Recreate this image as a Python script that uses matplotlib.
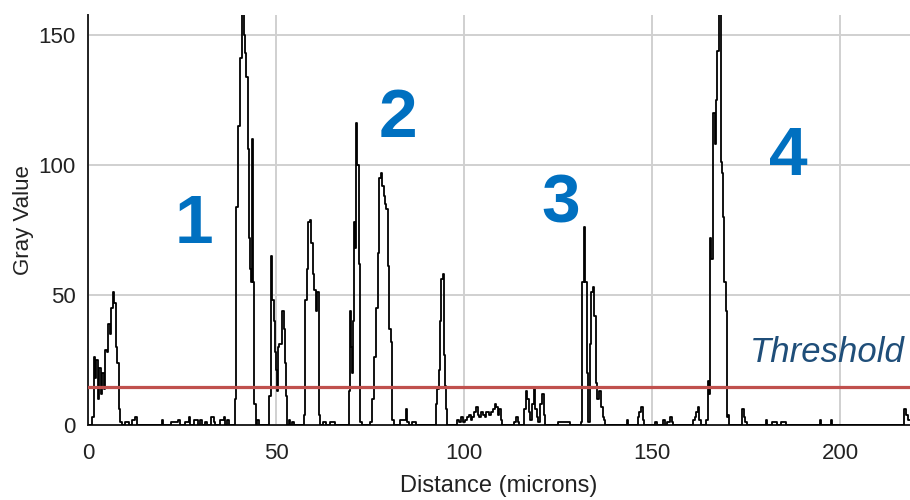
import matplotlib
matplotlib.use('Agg')
import matplotlib.pyplot as plt

# Profil lest av bildet (mikron, gråverdi)
distance = [0, 1.0, 1.3, 1.7, 2.0, 2.4, 2.8, 3.2, 3.6, 4.0, 4.4, 4.8, 5.2, 5.6, 6.0, 6.4, 6.8, 7.2, 7.6, 8.0, 8.4, 8.8, 9.2,
            10.6, 11.0, 12.2, 12.8, 13.2, 19.5, 19.8, 20.2, 23.8, 24.3, 24.8, 26.6, 27.0, 27.4, 29.0, 29.6, 30.2, 30.6,
            31.5, 32.0, 33.2, 33.6, 34.2, 35.8, 36.3, 36.8, 37.2, 37.6,
            39.0, 39.3, 39.6, 40.2, 40.7, 41.2, 41.6, 42.0, 42.3, 42.6, 42.9, 43.2, 43.5, 43.8, 44.1, 44.4, 44.7, 45.2, 45.5,
            48.0, 48.4, 48.9, 49.2, 49.5, 49.8, 50.1, 50.4, 50.7, 51.1, 51.5, 51.9, 52.2, 52.5, 52.8, 53.1, 53.7, 54.0, 54.6, 55.0,
            57.3, 57.6, 58.0, 58.4, 58.8, 59.2, 59.6, 60.0, 60.4, 60.8, 61.2, 61.5, 61.8,
            63.0, 63.4, 65.5, 66.0,
            69.2, 69.5, 69.8, 70.1, 70.4, 70.7, 71.0, 71.2, 71.4, 71.8, 72.2, 72.6, 73.0,
            74.8, 75.2, 75.7, 76.3, 76.8, 77.2, 77.7, 78.1, 78.5, 78.8, 79.1, 79.4, 79.9, 80.3, 80.7, 81.2, 81.6,
            84.5, 84.8, 85.1, 85.5, 87.0, 87.3,
            92.3, 92.7, 93.1, 93.4, 93.8, 94.1, 94.5, 94.8, 95.1, 95.4, 95.7,
            98.0, 98.4, 98.8, 99.5, 100.0, 100.5, 101.0, 101.6, 102.0, 102.5, 103.0, 103.4, 103.8, 104.2, 104.7, 105.2,
            105.7, 106.1, 106.5, 107.0, 107.5, 108.0, 108.4, 108.8, 109.2, 109.6, 110.0, 110.4, 113.0, 113.4, 114.0, 114.5, 115.0,
            115.8, 116.2, 116.6, 117.0, 117.4, 117.8, 118.3, 118.7, 119.1, 119.5, 120.0, 120.5, 121.0, 121.4, 121.8,
            128.0, 128.3,
            131.0, 131.3, 131.7, 132.1, 132.5, 132.9, 133.2, 133.6, 134.0, 134.4, 134.8, 135.2, 135.6, 136.0, 136.3, 136.7,
            137.0, 137.4, 137.8,
            140.0, 143.2, 143.5, 143.8, 146.0, 146.3, 146.8, 147.3, 147.7, 148.2, 150.5, 151.0, 151.4, 152.8, 153.2, 153.6,
            154.6, 155.0, 155.4, 155.9, 160.8, 161.2, 161.6, 162.0, 162.3, 162.7, 163.2,
            164.2, 164.6, 165.0, 165.3, 165.6, 166.0, 166.5, 166.8, 167.2, 167.6, 168.1, 168.5, 168.8, 169.1, 169.4, 169.7,
            170.0, 170.3, 170.6,
            173.8, 174.2, 174.6, 175.0, 175.4, 180.2, 180.5, 180.9, 183.0, 183.3, 185.5, 185.8, 194.4, 194.7, 195.0,
            197.5, 197.8, 198.1, 216.9, 217.3, 217.8, 218.6]
gray = [0, 0, 3, 26, 18, 25, 10, 22, 12, 20, 14, 29, 28, 39, 35, 45, 51, 47, 30, 24, 6, 1, 0,
        1, 0, 2, 3, 0, 0, 2, 0, 1, 2, 0, 1, 3, 0, 2, 0, 2, 0,
        1, 0, 3, 1, 0, 2, 3, 0, 2, 0,
        0, 10, 84, 115, 141, 158, 150, 143, 134, 106, 72, 60, 55, 110, 55, 8, 0, 2, 0,
        0, 11, 65, 48, 40, 28, 21, 13, 30, 31, 31, 44, 37, 24, 11, 0, 2, 0, 1, 0,
        0, 4, 48, 60, 78, 79, 70, 58, 52, 44, 51, 4, 0,
        1, 0, 1, 0,
        0, 13, 44, 30, 20, 40, 78, 68, 116, 100, 62, 1, 0,
        0, 1, 10, 26, 45, 66, 95, 97, 92, 88, 85, 83, 61, 37, 32, 2, 0,
        2, 6, 1, 0, 1, 0,
        0, 8, 14, 21, 40, 56, 58, 27, 15, 6, 0,
        0, 2, 1, 3, 1, 2, 3, 4, 2, 3, 5, 7, 4, 3, 5, 4,
        3, 5, 5, 4, 5, 6, 8, 7, 4, 6, 2, 0, 0, 1, 3, 1, 0,
        0, 6, 13, 10, 5, 2, 8, 14, 6, 3, 1, 8, 12, 4, 0,
        1, 0,
        0, 1, 55, 76, 55, 20, 1, 31, 51, 53, 42, 16, 10, 13, 13, 7,
        3, 2, 0,
        0, 0, 2, 0, 0, 3, 5, 7, 2, 0, 0, 1, 0, 0, 2, 0,
        1, 3, 1, 0, 0, 2, 3, 5, 7, 2, 0,
        0, 2, 17, 12, 72, 64, 120, 108, 125, 144, 158, 101, 97, 80, 55, 44,
        3, 4, 0,
        0, 6, 3, 1, 0, 0, 2, 0, 1, 0, 1, 0, 0, 2, 0,
        0, 2, 0, 0, 6, 4, 2]

threshold = 14.6
x_ticks = [0, 50, 100, 150, 200]
y_ticks = [0, 50, 100, 150]
region_labels = ['1', '2', '3', '4']
region_x = [28.1, 82.3, 125.7, 186.2]
region_y = [70.0, 110.8, 77.7, 96.2]

plt.rcParams['font.family'] = ['Liberation Sans', 'DejaVu Sans']

fig = plt.figure(figsize=(9.1, 5.0), dpi=100)
ax = fig.add_axes([88 / 910, 75 / 500, 822 / 910, 410 / 500])

ax.plot(distance, gray, color='black', lw=1.3, drawstyle='steps-mid', zorder=3)
ax.axhline(threshold, color='#C0504D', lw=2.3, zorder=4)

for lab, lx, ly in zip(region_labels, region_x, region_y):
    ax.text(lx, ly, lab, color='#0070C0', fontsize=50, fontweight='bold',
            ha='center', va='baseline', zorder=5)

ax.text(176.0, 24.2, 'Threshold', color='#1F4E79', fontsize=25, style='italic',
        ha='left', va='baseline', clip_on=False, zorder=5)

ax.set_xlim(0, 218.6)
ax.set_ylim(0, 157.7)
ax.set_xticks(x_ticks)
ax.set_yticks(y_ticks)
ax.tick_params(length=0, labelsize=16, colors='#222222')
ax.tick_params(axis='x', pad=13)
ax.tick_params(axis='y', pad=9)
ax.grid(True, color='#d0d0d0', lw=1.4)
ax.set_axisbelow(True)

for side in ['top', 'right']:
    ax.spines[side].set_visible(False)
for side in ['left', 'bottom']:
    ax.spines[side].set_color('#222222')
    ax.spines[side].set_linewidth(1.4)

ax.set_xlabel('Distance (microns)', fontsize=17, color='#222222', labelpad=8)
ax.set_ylabel('Gray Value', fontsize=16, color='#222222', labelpad=3)

fig.savefig('out.png', dpi=100)
